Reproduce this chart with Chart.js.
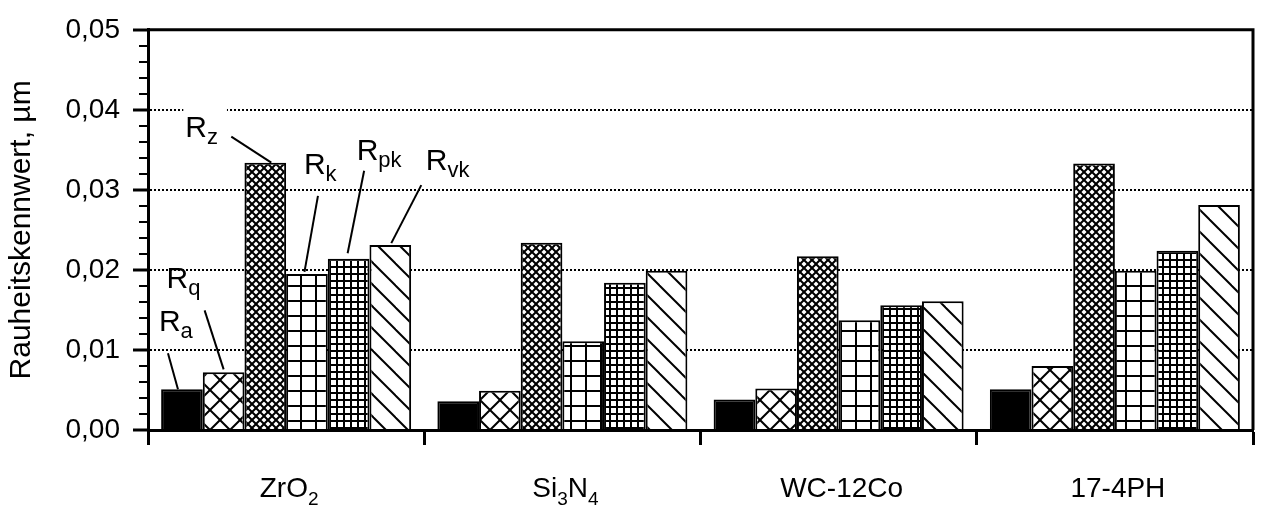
<!DOCTYPE html>
<html>
<head>
<meta charset="utf-8">
<script src="https://cdn.jsdelivr.net/npm/chart.js@4.4.1/dist/chart.umd.min.js"></script>
<style>
  html, body { margin: 0; padding: 0; background: #fff; }
</style>
</head>
<body>
<canvas id="roughChart" width="1262" height="506"></canvas>
<script>
// data
const categories = ['ZrO₂', 'Si₃N₄', 'WC-12Co', '17-4PH'];
const seriesNames = ['Ra', 'Rq', 'Rz', 'Rk', 'Rpk', 'Rvk'];
const ra  = [0.0051, 0.0036, 0.0038, 0.0051];
const rq  = [0.0072, 0.0049, 0.0052, 0.0080];
const rz  = [0.0334, 0.0234, 0.0217, 0.0333];
const rk  = [0.0195, 0.0111, 0.0137, 0.0199];
const rpk = [0.0214, 0.0184, 0.0156, 0.0224];
const rvk = [0.0231, 0.0199, 0.0161, 0.0281];
const yTickLabels = ['0,00', '0,01', '0,02', '0,03', '0,04', '0,05'];

const FONT = '"Liberation Sans", Arial, sans-serif';
const ctx = document.getElementById('roughChart').getContext('2d');

// hatch patterns
function makePattern(size, draw) {
  const pc = document.createElement('canvas');
  pc.width = size;
  pc.height = size;
  const p = pc.getContext('2d');
  p.fillStyle = '#fff';
  p.fillRect(0, 0, size, size);
  p.strokeStyle = '#000';
  p.fillStyle = '#000';
  p.lineWidth = 2;
  draw(p, size);
  return ctx.createPattern(pc, 'repeat');
}
function diag(p, s, dir) {
  for (const o of [-s, 0, s]) {
    p.beginPath();
    if (dir > 0) { p.moveTo(o - 1, -1); p.lineTo(o + s + 1, s + 1); }
    else { p.moveTo(o - 1, s + 1); p.lineTo(o + s + 1, -1); }
    p.stroke();
  }
}
function squares(p, s) {
  p.fillRect(0, 0, 2, s);
  p.fillRect(0, 0, s, 2);
}

const patRq  = makePattern(20, (p, s) => { diag(p, s, 1); diag(p, s, -1); });
const patRz  = makePattern(8,  (p, s) => { diag(p, s, 1); diag(p, s, -1); });
const patRk  = makePattern(15, squares);
const patRpk = makePattern(7, squares);
const patRvk = makePattern(22, (p, s) => diag(p, s, 1));

const fills = ['#000', patRq, patRz, patRk, patRpk, patRvk];
const values = [ra, rq, rz, rk, rpk, rvk];

// callouts for the first group, offsets from bar top centre
const callouts = [
  { dx: -23,  dy: -58,  p1: [-14, -36], p2: [-4, 0] },
  { dx: -57,  dy: -84,  p1: [-19, -62], p2: [0, -3] },
  { dx: -80,  dy: -26,  p1: [-34, -26], p2: [6, 0], bg: true },
  { dx: -3,   dy: -100, p1: [11, -78],  p2: [-2.5, -2] },
  { dx: 8,    dy: -99,  p1: [15.5, -88], p2: [-1, -5.5] },
  { dx: 35.5, dy: -75.5, p1: [31, -60], p2: [1, -2] }
];

const subDigits = { '₀': '0', '₁': '1', '₂': '2', '₃': '3', '₄': '4', '₅': '5', '₆': '6', '₇': '7', '₈': '8', '₉': '9' };

function splitSubs(text) {
  const segs = [];
  for (const ch of text) {
    const sub = ch in subDigits;
    const t = sub ? subDigits[ch] : ch;
    const last = segs[segs.length - 1];
    if (last && last.sub === sub) last.t += t;
    else segs.push({ t, sub });
  }
  return segs;
}

function drawSegs(c, segs, x, y, big, small, subDy, center) {
  const w = segs.map(s => {
    c.font = (s.sub ? small : big) + 'px ' + FONT;
    return c.measureText(s.t).width;
  });
  let cx = center ? x - w.reduce((a, b) => a + b, 0) / 2 : x;
  segs.forEach((s, i) => {
    c.font = (s.sub ? small : big) + 'px ' + FONT;
    c.fillText(s.t, cx, s.sub ? y + subDy : y);
    cx += w[i];
  });
  return cx;
}

const extrasPlugin = {
  id: 'extras',
  afterDatasetsDraw(chart) {
    const c = chart.ctx;
    const area = chart.chartArea;
    const y = chart.scales.y;
    c.save();
    // frame top and right
    c.strokeStyle = '#000';
    c.lineWidth = 3;
    c.beginPath();
    c.moveTo(area.left, area.top);
    c.lineTo(area.right, area.top);
    c.lineTo(area.right, area.bottom);
    c.stroke();
    // minor ticks
    c.lineWidth = 2;
    for (let i = 1; i < 25; i++) {
      if (i % 5 === 0) continue;
      const py = Math.round(y.getPixelForValue(i * 0.002));
      c.beginPath();
      c.moveTo(area.left - 9, py);
      c.lineTo(area.left, py);
      c.stroke();
    }
    // callouts
    c.fillStyle = '#000';
    c.textBaseline = 'alphabetic';
    c.textAlign = 'left';
    seriesNames.forEach((name, i) => {
      const bar = chart.getDatasetMeta(i).data[0];
      const co = callouts[i];
      const segs = [{ t: name[0], sub: false }, { t: name.slice(1), sub: true }];
      const tx = bar.x + co.dx, ty = bar.y + co.dy;
      if (co.bg) {
        c.font = '30px ' + FONT;
        let w = c.measureText(segs[0].t).width;
        c.font = '22px ' + FONT;
        w += c.measureText(segs[1].t).width;
        c.fillStyle = '#fff';
        c.fillRect(tx - 2, ty - 30, w + 11, 40);
        c.fillStyle = '#000';
      }
      drawSegs(c, segs, tx, ty, 30, 22, 7, false);
      c.lineWidth = 2;
      c.beginPath();
      c.moveTo(bar.x + co.p1[0], bar.y + co.p1[1]);
      c.lineTo(bar.x + co.p2[0], bar.y + co.p2[1]);
      c.stroke();
    });
    // category labels with subscripts
    const x = chart.scales.x;
    categories.forEach((cat, i) => {
      drawSegs(c, splitSubs(cat), x.getPixelForTick(i) + 3, 497, 28, 19, 8, true);
    });
    c.restore();
  }
};

new Chart(ctx, {
  type: 'bar',
  data: {
    labels: categories,
    datasets: seriesNames.map((name, i) => ({
      label: name,
      data: values[i],
      backgroundColor: fills[i],
      borderColor: '#000',
      borderWidth: 2,
      categoryPercentage: 0.905,
      barPercentage: 1.0
    }))
  },
  options: {
    responsive: false,
    animation: false,
    devicePixelRatio: 1,
    layout: { padding: { top: 24, right: 9, left: 0, bottom: 0 } },
    plugins: {
      legend: { display: false },
      tooltip: { enabled: false }
    },
    scales: {
      x: {
        offset: true,
        grid: {
          offset: true,
          drawOnChartArea: false,
          tickLength: 15,
          tickWidth: 3,
          tickColor: '#000'
        },
        border: { display: true, width: 3, color: '#000', z: 1 },
        ticks: { display: false },
        afterFit(s) { s.height = 76; }
      },
      y: {
        min: 0,
        max: 0.05,
        ticks: {
          stepSize: 0.01,
          color: '#000',
          padding: 13,
          font: { family: FONT, size: 28 },
          callback: (v, i) => yTickLabels[i]
        },
        grid: {
          color: c => (c.tick && (c.tick.value < 1e-9 || c.tick.value > 0.0499)) ? 'rgba(0,0,0,0)' : '#000',
          lineWidth: 2,
          tickLength: 15,
          tickWidth: 3,
          tickColor: '#000'
        },
        border: { display: true, width: 3, color: '#000', dash: [2, 2], z: 1 },
        title: {
          display: true,
          text: 'Rauheitskennwert, µm',
          color: '#000',
          font: { family: FONT, size: 30 },
          padding: { top: 4, bottom: 0 }
        },
        afterFit(s) { s.width = 148; }
      }
    }
  },
  plugins: [extrasPlugin]
});
</script>
</body>
</html>
